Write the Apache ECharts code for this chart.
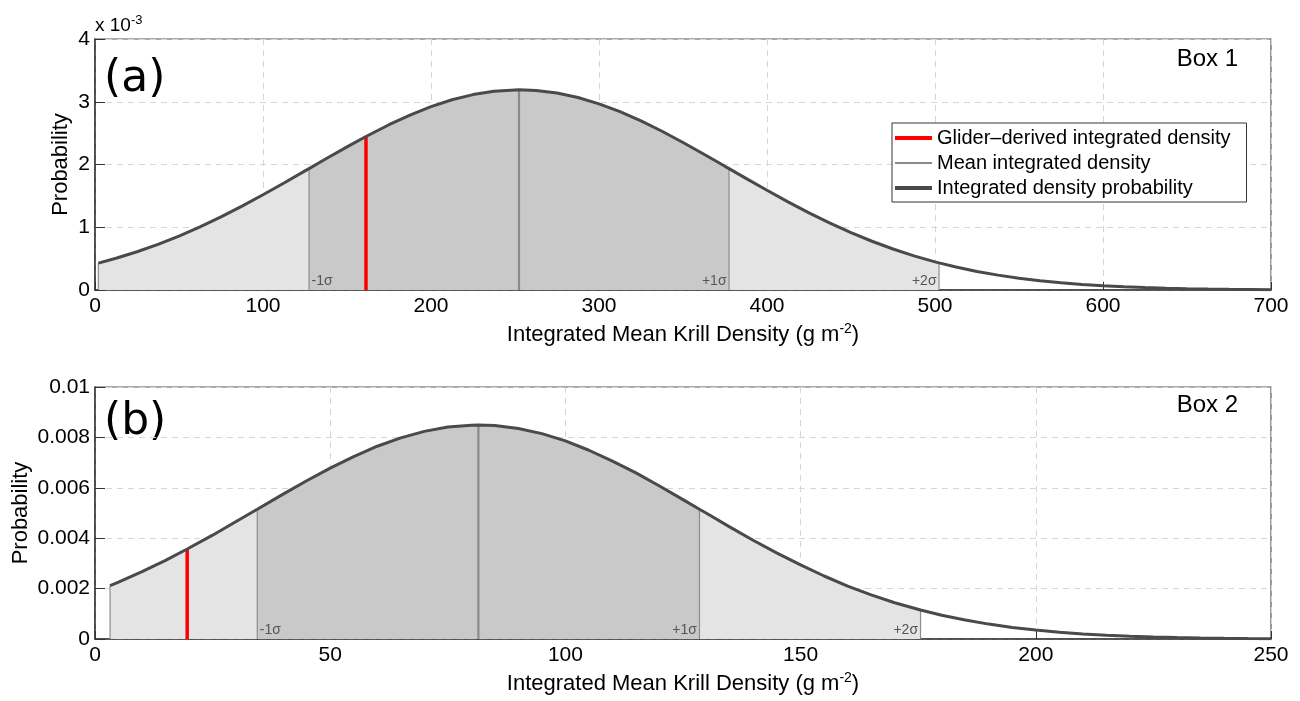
<!DOCTYPE html>
<html><head><meta charset="utf-8">
<script src="https://cdn.jsdelivr.net/npm/echarts@6/dist/echarts.min.js"></script>
<style>html,body{margin:0;padding:0;background:#fff}#c{width:1300px;height:701px}</style>
</head><body><div id="c"></div>
<script>
// ---------- data ----------
// Panel (a): probability in units of 1e-3
const topX = [2,12.5,25,37.5,50,62.5,75,87.5,100,112.5,125,127.4,137.5,150,161.3,175,187.5,200,212.5,225,237.5,250,252.4,262.5,275,287.5,300,312.5,325,337.5,350,362.5,375,377.4,387.5,400,412.5,425,437.5,450,462.5,475,487.5,500,502.4,512.5,525,537.5,550,562.5,575,587.5,600,612.5,625,637.5,650,662.5,675,687.5,700];
const topY = [0.429,0.506,0.609,0.728,0.860,1.006,1.165,1.336,1.518,1.705,1.898,1.935,2.091,2.281,2.446,2.634,2.788,2.922,3.032,3.114,3.167,3.188,3.190,3.180,3.138,3.067,2.967,2.842,2.695,2.530,2.351,2.164,1.971,1.935,1.779,1.589,1.405,1.230,1.066,0.914,0.777,0.653,0.544,0.449,0.432,0.366,0.296,0.237,0.188,0.147,0.114,0.088,0.067,0.050,0.038,0.028,0.020,0.015,0.011,0.008,0.005];
const topGlider = 161.3;
const topMean = 252.4;
const topStart = 2;
const topSigmaX = [127.4, 377.4, 502.4];
// Panel (b)
const botX = [3.2,5,10,15,19.6,25,30,34.5,40,45,50,55,60,65,70,75,80,81.5,85,90,95,100,105,110,115,120,125,128.5,130,135,140,145,150,155,160,165,170,175.5,180,185,190,195,200,205,210,215,220,225,230,235,240,245,250];
const botY = [0.00212,0.00226,0.00267,0.00312,0.00357,0.00412,0.00466,0.00515,0.00575,0.00628,0.00678,0.00724,0.00765,0.00798,0.00824,0.00841,0.00848,0.00849,0.00847,0.00835,0.00815,0.00786,0.00749,0.00706,0.00659,0.00607,0.00553,0.00515,0.00499,0.00444,0.00391,0.00341,0.00294,0.00250,0.00210,0.00175,0.00144,0.00115,0.000945,0.000751,0.000591,0.000460,0.000354,0.000269,0.000202,0.000150,0.000110,0.0000803,0.0000577,0.0000410,0.0000289,0.0000200,0.0000138];
const botGlider = 19.6;
const botMean = 81.5;
const botStart = 3.2;
const botSigmaX = [34.5, 128.5, 175.5];
const sigmaLabels = ['-1\u03c3', '+1\u03c3', '+2\u03c3'];
const topXTicks = {min:0, max:700, interval:100};
const topYTicks = {min:0, max:4, interval:1};
const botXTicks = {min:0, max:250, interval:50};
const botYTicks = {min:0, max:0.01, interval:0.002};
const legendNames = ['Glider\u2013derived integrated density','Mean integrated density','Integrated density probability'];

// ---------- helpers ----------
function yAt(xs, ys, x){
  for (let i=0;i<xs.length;i++){ if (Math.abs(xs[i]-x)<1e-9) return ys[i]; }
  for (let i=0;i<xs.length-1;i++){ if (x>=xs[i] && x<=xs[i+1]) return ys[i]+(ys[i+1]-ys[i])*(x-xs[i])/(xs[i+1]-xs[i]); }
  return 0;
}
function pts(xs, ys, lo, hi){
  const out=[]; for (let i=0;i<xs.length;i++){ if (xs[i]>=lo-1e-9 && xs[i]<=hi+1e-9) out.push([xs[i],ys[i]]); } return out;
}
const FONT = 'Liberation Sans';
const LIGHT = '#e4e4e4', DARK = '#c9c9c9', EDGE = '#8e8e8e', CURVE = '#4a4a4a', MEAN = '#8a8a8a', RED = '#ff0000';
const CLEAR = 'rgba(0,0,0,0)';

function vline(name, xi, x, y, color, width, z, label){
  const d0 = {value:[x,0]};
  if (label){ d0.label = {show:true, formatter:label.text, position:label.pos, offset:label.off, color:'#555', fontSize:14, fontFamily:FONT}; }
  return {name:name, type:'line', xAxisIndex:xi, yAxisIndex:xi, data:[d0,[x,y]], symbol:'circle', symbolSize:0.01, showSymbol:true,
    itemStyle:{color:CLEAR, borderColor:CLEAR}, lineStyle:{color:color,width:width}, z:z, silent:true, animation:false};
}
function panel(xi, xs, ys, start, sig, glider, mean, gname){
  const s = [];
  s.push({name:gname+'light', type:'line', xAxisIndex:xi, yAxisIndex:xi, data:pts(xs,ys,start,sig[2]), symbol:'none', lineStyle:{width:0}, areaStyle:{color:LIGHT, opacity:1}, z:1, animation:false});
  s.push({name:gname+'dark', type:'line', xAxisIndex:xi, yAxisIndex:xi, data:pts(xs,ys,sig[0],sig[1]), symbol:'none', lineStyle:{width:0}, areaStyle:{color:DARK, opacity:1}, z:2, animation:false});
  s.push(vline(gname+'e0', xi, start, yAt(xs,ys,start), EDGE, 1.2, 3));
  s.push(vline(gname+'s0', xi, sig[0], yAt(xs,ys,sig[0]), EDGE, 1.2, 3, {text:sigmaLabels[0], pos:'right', off:[-3,-9]}));
  s.push(vline(gname+'s1', xi, sig[1], yAt(xs,ys,sig[1]), EDGE, 1.2, 3, {text:sigmaLabels[1], pos:'left', off:[3,-9]}));
  s.push(vline(gname+'s2', xi, sig[2], yAt(xs,ys,sig[2]), EDGE, 1.2, 3, {text:sigmaLabels[2], pos:'left', off:[3,-9]}));
  s.push(vline(xi===0?legendNames[1]:gname+'mean', xi, mean, yAt(xs,ys,mean), MEAN, 2.2, 4));
  s.push(vline(xi===0?legendNames[0]:gname+'glider', xi, glider, yAt(xs,ys,glider), RED, 3.5, 5));
  s.push({name:xi===0?legendNames[2]:gname+'curve', type:'line', xAxisIndex:xi, yAxisIndex:xi, data:xs.map((x,i)=>[x,ys[i]]), symbol:'none', lineStyle:{color:CURVE,width:3}, itemStyle:{color:CURVE}, z:6, animation:false});
  return s;
}
const axisLbl = {color:'#000', fontSize:21, fontFamily:FONT};
const split = {show:true, lineStyle:{color:'#d6d6d6', type:[6,5], width:1}};
const nameRich = {fontSize:22, fontFamily:FONT, color:'#000', rich:{sup:{fontSize:14, fontFamily:FONT, color:'#000', verticalAlign:'top', padding:[0,0,12,0]}}};
function xAx(i, t){
  return {type:'value', gridIndex:i, min:t.min, max:t.max, interval:t.interval,
    name:'Integrated Mean Krill Density (g m{sup|-2})', nameLocation:'middle', nameGap:32, nameTextStyle:nameRich, nameMoveOverlap:false,
    axisLine:{show:true, onZero:false, lineStyle:{color:'#333', width:1.5}}, axisTick:{show:true, inside:true, length:8, lineStyle:{color:'#333'}},
    axisLabel:Object.assign({margin:6}, axisLbl), splitLine:split};
}
function yAx(i, t, gap){
  return {type:'value', gridIndex:i, min:t.min, max:t.max, interval:t.interval,
    name:'Probability', nameLocation:'middle', nameGap:gap, nameRotate:90, nameMoveOverlap:false, nameTextStyle:{fontSize:22, fontFamily:FONT, color:'#000'},
    axisLine:{show:true, lineStyle:{color:'#333', width:1.5}}, axisTick:{show:true, inside:true, length:10, lineStyle:{color:'#333'}},
    axisLabel:Object.assign({margin:5}, axisLbl), splitLine:split};
}
const meanIcon = 'path://M0,0h0.01v0.01h-0.01z M0,1h37v2h-37z M0,3.99h0.01v0.01h-0.01z';
const option = {
  backgroundColor:'#fff',
  animation:false,
  grid:[
    {left:95, right:29, top:39, height:251, show:true, borderColor:'#555', borderWidth:1.2, backgroundColor:'#fff', containLabel:false, outerBoundsMode:'none'},
    {left:95, right:29, top:387, height:252, show:true, borderColor:'#555', borderWidth:1.2, backgroundColor:'#fff', containLabel:false, outerBoundsMode:'none'}
  ],
  xAxis:[xAx(0, topXTicks), xAx(1, botXTicks)],
  yAxis:[yAx(0, topYTicks, 23), yAx(1, botYTicks, 63)],
  legend:{data:[
      {name:legendNames[0], icon:'rect', itemStyle:{color:RED}},
      {name:legendNames[1], icon:meanIcon, itemStyle:{color:MEAN}},
      {name:legendNames[2], icon:'rect', itemStyle:{color:CURVE}}
    ], orient:'vertical', left:892, top:123, itemWidth:37, itemHeight:4, itemGap:5,
    padding:[5,16,4,3], borderColor:'#333', borderWidth:1, backgroundColor:'#fff', selectedMode:false,
    textStyle:{fontSize:20, fontFamily:FONT, color:'#000'}},
  graphic:[
    {type:'text', left:104, top:58, style:{text:'(a)', fontSize:44, fontFamily:'DejaVu Sans', fontWeight:'normal', fill:'#000'}},
    {type:'text', left:104, top:401, style:{text:'(b)', fontSize:44, fontFamily:'DejaVu Sans', fontWeight:'normal', fill:'#000'}},
    {type:'text', right:62, top:47, style:{text:'Box 1', fontSize:24, fontFamily:FONT, fill:'#000'}},
    {type:'text', right:62, top:393, style:{text:'Box 2', fontSize:24, fontFamily:FONT, fill:'#000'}},
    {type:'text', left:95, top:14, style:{text:'x 10{s|-3}', fontSize:19, fontFamily:FONT, fill:'#000', rich:{s:{fontSize:13, fontFamily:FONT, fill:'#000', verticalAlign:'top', padding:[0,0,10,0]}}}}
  ],
  series:[].concat(
    panel(0, topX, topY, topStart, topSigmaX, topGlider, topMean, 'a_'),
    panel(1, botX, botY, botStart, botSigmaX, botGlider, botMean, 'b_')
  )
};
const chart = echarts.init(document.getElementById('c'), null, {renderer:'canvas'});
chart.setOption(option);
</script></body></html>
